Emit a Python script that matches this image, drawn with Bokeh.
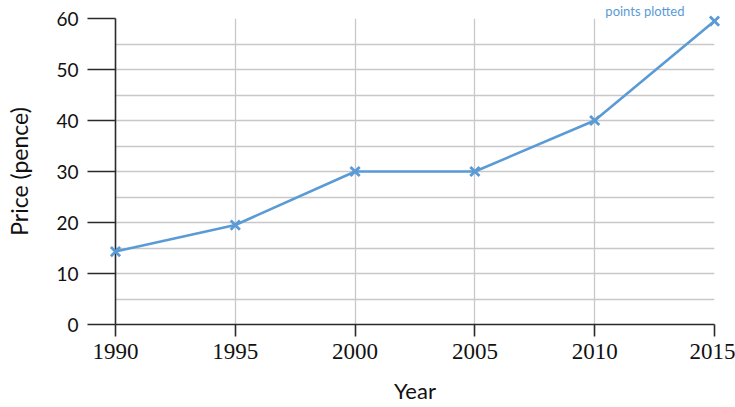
from bokeh.plotting import figure
from bokeh.models import Range1d, FixedTicker
from bokeh.embed import file_html
from bokeh.resources import INLINE

years = [1990, 1995, 2000, 2005, 2010, 2015]
prices = [14.3, 19.5, 30, 30, 40, 59.5]
y_ticks = [0, 10, 20, 30, 40, 50, 60]
y_minor = [5, 15, 25, 35, 45, 55]
x_ticks = [1990, 1995, 2000, 2005, 2010, 2015]
note_text = "points plotted"

FONT = "Lato"
NARROW = "Liberation Sans Narrow"
BLUE = "#5b9bd5"
W, H = 735, 407
BL, BR, BT, BB = 115, 21, 18, 83

p = figure(width=W, height=H, output_backend="svg", toolbar_location=None,
           x_range=Range1d(1990, 2015), y_range=Range1d(0, 60),
           min_border_left=BL, min_border_right=BR, min_border_top=BT, min_border_bottom=BB,
           title=note_text, title_location="above")
p.outline_line_color = None
p.background_fill_color = "white"

p.title.align = "right"
p.title.offset = 30
p.title.standoff = 0
p.title.text_font = FONT
p.title.text_font_style = "normal"
p.title.text_font_size = "13px"
p.title.text_color = BLUE

p.xaxis.ticker = FixedTicker(ticks=x_ticks)
p.yaxis.ticker = FixedTicker(ticks=y_ticks, minor_ticks=y_minor)

for ax in (p.xaxis[0], p.yaxis[0]):
    ax.axis_line_color = "#2a2a2a"
    ax.axis_line_width = 1.6
    ax.major_tick_line_color = "#2a2a2a"
    ax.major_tick_line_width = 1.6
    ax.major_tick_in = 0
    ax.minor_tick_in = 0
    ax.minor_tick_out = 0
    ax.major_label_text_font = FONT
    ax.major_label_text_color = "#111111"
    ax.axis_label_text_font = FONT
    ax.axis_label_text_font_style = "normal"
    ax.axis_label_text_color = "#111111"
    ax.axis_label_text_font_size = "22px"

p.xaxis.major_tick_out = 12
p.xaxis.major_label_text_font = NARROW
p.xaxis.major_label_text_font_size = "23px"
p.xaxis.major_label_standoff = 7
p.xaxis.axis_label = "Year"
p.xaxis.axis_label_standoff = 15

p.yaxis.major_tick_out = 28
p.yaxis.major_label_text_font_size = "19px"
p.yaxis.major_label_standoff = 9
p.yaxis.axis_label = "Price (pence)"
p.yaxis.axis_label_text_font_size = "23px"
p.yaxis.axis_label_standoff = 20

for g in (p.xgrid[0], p.ygrid[0]):
    g.grid_line_color = "#c8c8c8"
    g.grid_line_width = 1.3
p.ygrid.minor_grid_line_color = "#c8c8c8"
p.ygrid.minor_grid_line_width = 1.3

p.line(years, prices, line_color=BLUE, line_width=2.6, level="overlay")
p.scatter(years, prices, marker="x", size=13, line_color=BLUE, line_width=2.8, level="overlay")

open("out.html", "w").write(file_html(p, INLINE))
